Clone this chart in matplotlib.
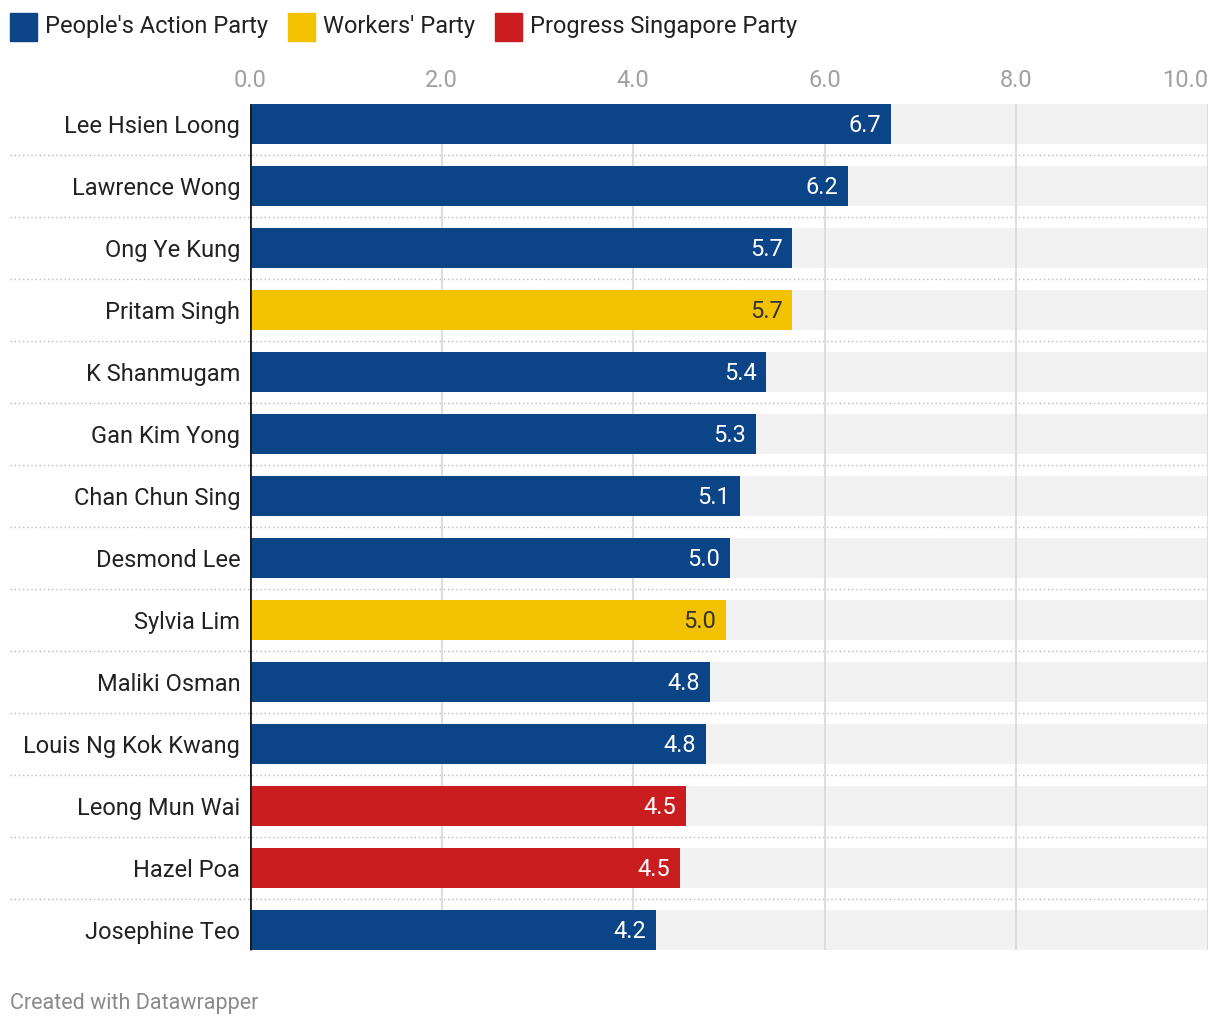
import matplotlib.pyplot as plt
from matplotlib.patches import Rectangle
import matplotlib.transforms as mtransforms

plt.rcParams['font.family'] = ['Roboto', 'DejaVu Sans']

names = ["Lee Hsien Loong", "Lawrence Wong", "Ong Ye Kung", "Pritam Singh",
         "K Shanmugam", "Gan Kim Yong", "Chan Chun Sing", "Desmond Lee",
         "Sylvia Lim", "Maliki Osman", "Louis Ng Kok Kwang", "Leong Mun Wai",
         "Hazel Poa", "Josephine Teo"]
values = [6.69, 6.24, 5.66, 5.66, 5.39, 5.28, 5.11, 5.01, 4.97, 4.80, 4.76,
          4.55, 4.49, 4.24]
labels = ["6.7", "6.2", "5.7", "5.7", "5.4", "5.3", "5.1", "5.0", "5.0",
          "4.8", "4.8", "4.5", "4.5", "4.2"]
party = ["PAP", "PAP", "PAP", "WP", "PAP", "PAP", "PAP", "PAP", "WP", "PAP",
         "PAP", "PSP", "PSP", "PAP"]
party_names = {"PAP": "People's Action Party", "WP": "Workers' Party",
               "PSP": "Progress Singapore Party"}
colors = {"PAP": "#0b4487", "WP": "#f2c200", "PSP": "#c91d1f"}
text_colors = {"PAP": "white", "WP": "#333333", "PSP": "white"}
xticks = [0, 2, 4, 6, 8, 10]
xticklabels = ["0.0", "2.0", "4.0", "6.0", "8.0", "10.0"]

W, H = 1220, 1028
fig = plt.figure(figsize=(W / 100, H / 100), dpi=100)
ax = fig.add_axes([250 / W, 1 - 961 / H, 958 / W, (961 - 93) / H])

n = len(names)
ys = list(range(n))
bh = 40 / 62
top, bot = -bh / 2, n - 1 + bh / 2

# grey background bars
ax.barh(ys, [10] * n, height=bh, color="#f2f2f2", zorder=1)
# gridlines
ax.vlines(xticks[1:], top, bot, color="#dddddd", lw=1.5, zorder=2)
ax.barh(ys, values, height=bh, color=[colors[p] for p in party], zorder=3)

for y, v, lab, p in zip(ys, values, labels, party):
    ax.text(v - 0.1, y + 0.02, lab, ha="right", va="center", fontsize=17,
            color=text_colors[p], zorder=4)

# dotted separators
trans = mtransforms.blended_transform_factory(ax.transAxes, ax.transData)
for y in ys[:-1]:
    ax.plot([-240 / 958, 1.0], [y + 0.5, y + 0.5], transform=trans,
            color="#bbbbbb", lw=1, ls=(0, (1, 2)), clip_on=False, zorder=0)

ax.plot([0, 0], [top, bot], color="#1a1a1a", lw=2, zorder=5,
        solid_capstyle="butt")

ax.set_xlim(0, 10)
ax.set_ylim(n - 0.5, -0.5)
ax.xaxis.tick_top()
ax.set_yticks(ys)
ax.set_yticklabels(names, fontsize=17, color="#222222")
ax.set_xticks(xticks)
ax.set_xticklabels(xticklabels, fontsize=17, color="#a0a0a0")
ax.tick_params(axis="both", length=0)
ax.tick_params(axis="y", pad=7)
ax.tick_params(axis="x", pad=1)
ax.xaxis.get_major_ticks()[-1].label2.set_horizontalalignment("right")
for s in ax.spines.values():
    s.set_visible(False)

# legend
lx = 10
for key in ["PAP", "WP", "PSP"]:
    fig.patches.append(Rectangle((lx / W, 1 - 41 / H), 27 / W, 28 / H,
                                 transform=fig.transFigure,
                                 color=colors[key]))
    t = fig.text((lx + 35) / W, 1 - 27 / H, party_names[key], fontsize=17,
                 color="#222222", va="center", ha="left")
    fig.canvas.draw()
    bb = t.get_window_extent()
    lx = bb.x1 + 20

fig.text(10 / W, 1 - 1003 / H, "Created with Datawrapper", fontsize=15.5,
         color="#8a8a8a", va="center", ha="left")

fig.savefig("out.png", dpi=100)
